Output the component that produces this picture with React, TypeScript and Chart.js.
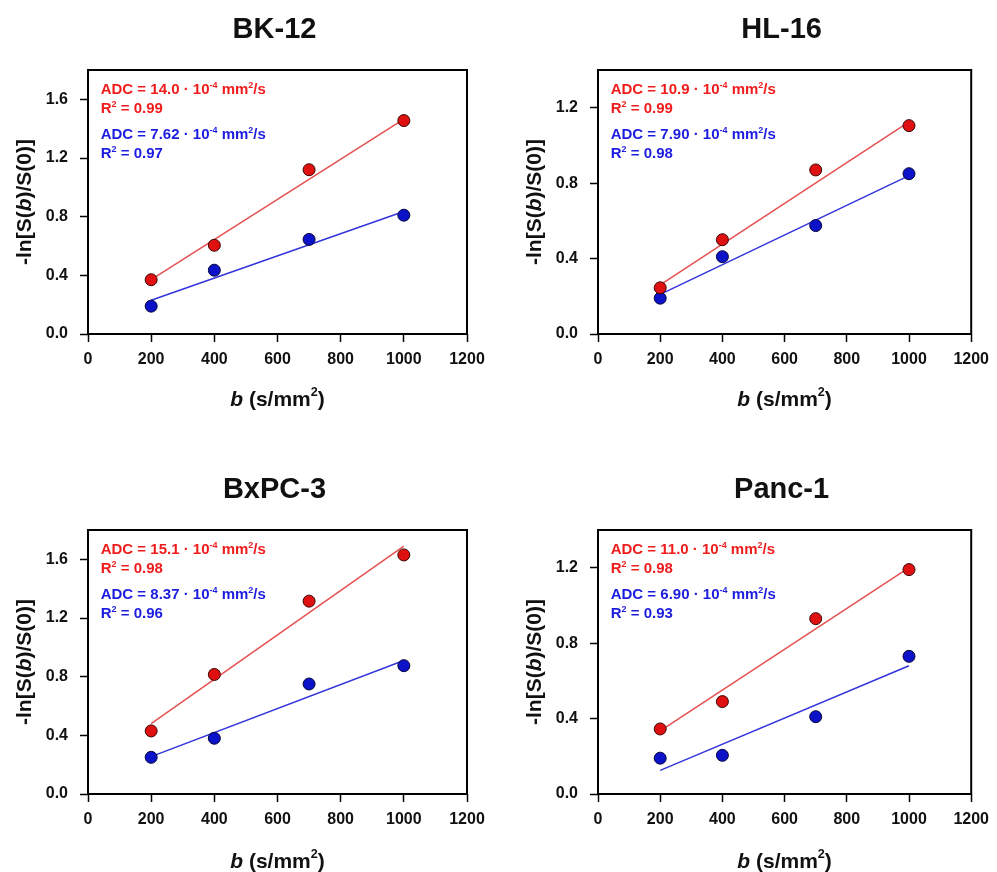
import React, { useEffect, useRef } from "react";
import { Chart, registerables } from "chart.js";

Chart.register(...registerables);

// ---------- data ----------
const B_VALUES = [200, 400, 700, 1000];
const FIT_B = [200, 1000];
const X_TICKS = [0, 200, 400, 600, 800, 1000, 1200];
const Y_TICKS_HIGH = [0, 0.4, 0.8, 1.2, 1.6];
const Y_TICKS_LOW = [0, 0.4, 0.8, 1.2];

const PANEL_TITLES = ["BK-12", "HL-16", "BxPC-3", "Panc-1"];
const Y_MAX = [1.8, 1.4, 1.8, 1.4];

const BK12_RED = [0.37, 0.605, 1.12, 1.455];
const BK12_BLUE = [0.19, 0.435, 0.645, 0.81];
const BK12_RED_FIT = [0.37, 1.465];
const BK12_BLUE_FIT = [0.23, 0.835];

const HL16_RED = [0.245, 0.5, 0.87, 1.105];
const HL16_BLUE = [0.19, 0.41, 0.575, 0.85];
const HL16_RED_FIT = [0.26, 1.125];
const HL16_BLUE_FIT = [0.21, 0.84];

const BXPC3_RED = [0.43, 0.815, 1.315, 1.63];
const BXPC3_BLUE = [0.25, 0.38, 0.75, 0.875];
const BXPC3_RED_FIT = [0.48, 1.69];
const BXPC3_BLUE_FIT = [0.255, 0.91];

const PANC1_RED = [0.345, 0.49, 0.93, 1.19];
const PANC1_BLUE = [0.19, 0.205, 0.41, 0.73];
const PANC1_RED_FIT = [0.335, 1.2];
const PANC1_BLUE_FIT = [0.125, 0.68];

const RED_ADC = ["14.0", "10.9", "15.1", "11.0"];
const RED_R2 = ["0.99", "0.99", "0.98", "0.98"];
const BLUE_ADC = ["7.62", "7.90", "8.37", "6.90"];
const BLUE_R2 = ["0.97", "0.98", "0.96", "0.93"];

const RED_POINTS = [BK12_RED, HL16_RED, BXPC3_RED, PANC1_RED];
const BLUE_POINTS = [BK12_BLUE, HL16_BLUE, BXPC3_BLUE, PANC1_BLUE];
const RED_FITS = [BK12_RED_FIT, HL16_RED_FIT, BXPC3_RED_FIT, PANC1_RED_FIT];
const BLUE_FITS = [BK12_BLUE_FIT, HL16_BLUE_FIT, BXPC3_BLUE_FIT, PANC1_BLUE_FIT];
const Y_TICK_SETS = [Y_TICKS_HIGH, Y_TICKS_LOW, Y_TICKS_HIGH, Y_TICKS_LOW];

// ---------- layout / style ----------
const FONT = '"Liberation Sans", Arial, Helvetica, sans-serif';
const RED_TEXT = "#f01c1c";
const BLUE_TEXT = "#1c1ce0";
const RED_FILL = "#de1010";
const BLUE_FILL = "#0c12c8";
const RED_LINE = "#e65050";
const BLUE_LINE = "#3434dc";

type Panel = {
  left: number; top: number; width: number; height: number;
  plotLeft: number; plotRight: number; plotTop: number; plotBottom: number;
  xTitleOffset: number;
};

const PANELS: Panel[] = [
  { left: 0, top: 0, width: 497, height: 436, plotLeft: 88, plotRight: 467, plotTop: 70, plotBottom: 334, xTitleOffset: 64 },
  { left: 497, top: 0, width: 500, height: 436, plotLeft: 101, plotRight: 480, plotTop: 70, plotBottom: 334, xTitleOffset: 64 },
  { left: 0, top: 436, width: 497, height: 436, plotLeft: 88, plotRight: 467, plotTop: 94, plotBottom: 358, xTitleOffset: 66 },
  { left: 497, top: 436, width: 500, height: 436, plotLeft: 101, plotRight: 480, plotTop: 94, plotBottom: 358, xTitleOffset: 66 },
];

type Seg = { t: string; sup?: boolean; it?: boolean };

function segFont(size: number, seg: Seg) {
  const s = seg.sup ? size * 0.6 : size;
  return `${seg.it ? "italic " : ""}bold ${s}px ${FONT}`;
}

function richWidth(ctx: CanvasRenderingContext2D, segs: Seg[], size: number) {
  let w = 0;
  for (const seg of segs) {
    ctx.font = segFont(size, seg);
    w += ctx.measureText(seg.t).width;
  }
  return w;
}

function drawRich(
  ctx: CanvasRenderingContext2D,
  segs: Seg[],
  x: number,
  yCenter: number,
  size: number,
  color: string,
  align: "left" | "center"
) {
  ctx.save();
  ctx.fillStyle = color;
  ctx.textBaseline = "alphabetic";
  ctx.textAlign = "left";
  const w = richWidth(ctx, segs, size);
  let cx = align === "center" ? x - w / 2 : x;
  const base = yCenter + size * 0.36;
  for (const seg of segs) {
    ctx.font = segFont(size, seg);
    ctx.fillText(seg.t, cx, seg.sup ? base - size * 0.44 : base);
    cx += ctx.measureText(seg.t).width;
  }
  ctx.restore();
}

function makeOverlay(idx: number) {
  return {
    id: "overlay" + idx,
    afterDraw(chart: any) {
      const ctx: CanvasRenderingContext2D = chart.ctx;
      const a = chart.chartArea;
      // frame
      ctx.save();
      ctx.strokeStyle = "#000";
      ctx.lineWidth = 2;
      ctx.strokeRect(a.left, a.top, a.right - a.left, a.bottom - a.top);
      ctx.restore();
      const cxArea = (a.left + a.right) / 2;
      // panel title
      drawRich(ctx, [{ t: PANEL_TITLES[idx] }], cxArea - 3, a.top - 42, 29, "#111", "center");
      // x axis title
      drawRich(
        ctx,
        [{ t: "b", it: true }, { t: " (s/mm" }, { t: "2", sup: true }, { t: ")" }],
        cxArea,
        a.bottom + PANELS[idx].xTitleOffset,
        21,
        "#111",
        "center"
      );
      // y axis title
      ctx.save();
      ctx.translate(a.left - 65, (a.top + a.bottom) / 2);
      ctx.rotate(-Math.PI / 2);
      drawRich(
        ctx,
        [{ t: "-ln[S(" }, { t: "b", it: true }, { t: ")/S(0)]" }],
        0,
        0,
        21,
        "#111",
        "center"
      );
      ctx.restore();
      // annotations
      const tx = a.left + 12.7;
      drawRich(
        ctx,
        [{ t: `ADC = ${RED_ADC[idx]} \u00b7 10` }, { t: "-4", sup: true }, { t: " mm" }, { t: "2", sup: true }, { t: "/s" }],
        tx, a.top + 19, 15, RED_TEXT, "left"
      );
      drawRich(ctx, [{ t: "R" }, { t: "2", sup: true }, { t: ` = ${RED_R2[idx]}` }], tx, a.top + 38, 15, RED_TEXT, "left");
      drawRich(
        ctx,
        [{ t: `ADC = ${BLUE_ADC[idx]} \u00b7 10` }, { t: "-4", sup: true }, { t: " mm" }, { t: "2", sup: true }, { t: "/s" }],
        tx, a.top + 64, 15, BLUE_TEXT, "left"
      );
      drawRich(ctx, [{ t: "R" }, { t: "2", sup: true }, { t: ` = ${BLUE_R2[idx]}` }], tx, a.top + 83, 15, BLUE_TEXT, "left");
    },
  };
}

function PanelChart({ idx }: { idx: number }) {
  const ref = useRef<HTMLCanvasElement | null>(null);
  useEffect(() => {
    const canvas = ref.current;
    if (!canvas) return;
    const p = PANELS[idx];
    const tickFont = { family: FONT, size: 16, weight: "bold" as const };
    const pts = (ys: number[]) => B_VALUES.map((x, i) => ({ x, y: ys[i] }));
    const fit = (ys: number[]) => FIT_B.map((x, i) => ({ x, y: ys[i] }));
    const chart = new Chart(canvas, {
      type: "scatter",
      data: {
        datasets: [
          {
            data: pts(RED_POINTS[idx]),
            backgroundColor: RED_FILL,
            borderColor: "#3a0505",
            pointRadius: 6,
            pointBorderWidth: 1,
            showLine: false,
            order: 0,
          },
          {
            data: pts(BLUE_POINTS[idx]),
            backgroundColor: BLUE_FILL,
            borderColor: "#05053a",
            pointRadius: 6,
            pointBorderWidth: 1,
            showLine: false,
            order: 0,
          },
          {
            data: fit(RED_FITS[idx]),
            borderColor: RED_LINE,
            borderWidth: 1.5,
            pointRadius: 0,
            showLine: true,
            order: 1,
          },
          {
            data: fit(BLUE_FITS[idx]),
            borderColor: BLUE_LINE,
            borderWidth: 1.5,
            pointRadius: 0,
            showLine: true,
            order: 1,
          },
        ],
      },
      options: {
        responsive: false,
        animation: false,
        devicePixelRatio: 1,
        layout: {
          padding: { top: p.plotTop, right: p.width - p.plotRight, bottom: 0, left: 0 },
        },
        plugins: {
          legend: { display: false },
          tooltip: { enabled: false },
          title: { display: false },
        },
        scales: {
          x: {
            type: "linear",
            min: 0,
            max: 1200,
            afterBuildTicks: (s: any) => {
              s.ticks = X_TICKS.map((v) => ({ value: v }));
            },
            afterFit: (s: any) => {
              s.height = p.height - p.plotBottom;
            },
            ticks: {
              font: tickFont,
              color: "#111",
              padding: 8,
              maxRotation: 0,
              autoSkip: false,
              callback: (v: any) => String(v),
            },
            grid: {
              drawOnChartArea: false,
              drawTicks: true,
              tickLength: 8,
              tickWidth: 1.5,
              tickColor: "#000",
            },
            border: { display: false },
          },
          y: {
            type: "linear",
            min: 0,
            max: Y_MAX[idx],
            afterBuildTicks: (s: any) => {
              s.ticks = Y_TICK_SETS[idx].map((v) => ({ value: v }));
            },
            afterFit: (s: any) => {
              s.width = p.plotLeft;
            },
            ticks: {
              font: tickFont,
              color: "#111",
              padding: 12,
              autoSkip: false,
              callback: (v: any) => Number(v).toFixed(1),
            },
            grid: {
              drawOnChartArea: false,
              drawTicks: true,
              tickLength: 8,
              tickWidth: 1.5,
              tickColor: "#000",
            },
            border: { display: false },
          },
        },
      },
      plugins: [makeOverlay(idx)],
    });
    return () => chart.destroy();
  }, [idx]);
  const p = PANELS[idx];
  return (
    <canvas
      ref={ref}
      width={p.width}
      height={p.height}
      style={{ position: "absolute", left: p.left, top: p.top, width: p.width, height: p.height, display: "block" }}
    />
  );
}

export default function App() {
  return (
    <div
      style={{
        position: "absolute",
        left: 0,
        top: 0,
        width: 997,
        height: 872,
        background: "#fff",
        overflow: "hidden",
      }}
    >
      {[0, 1, 2, 3].map((i) => (
        <PanelChart key={i} idx={i} />
      ))}
    </div>
  );
}
